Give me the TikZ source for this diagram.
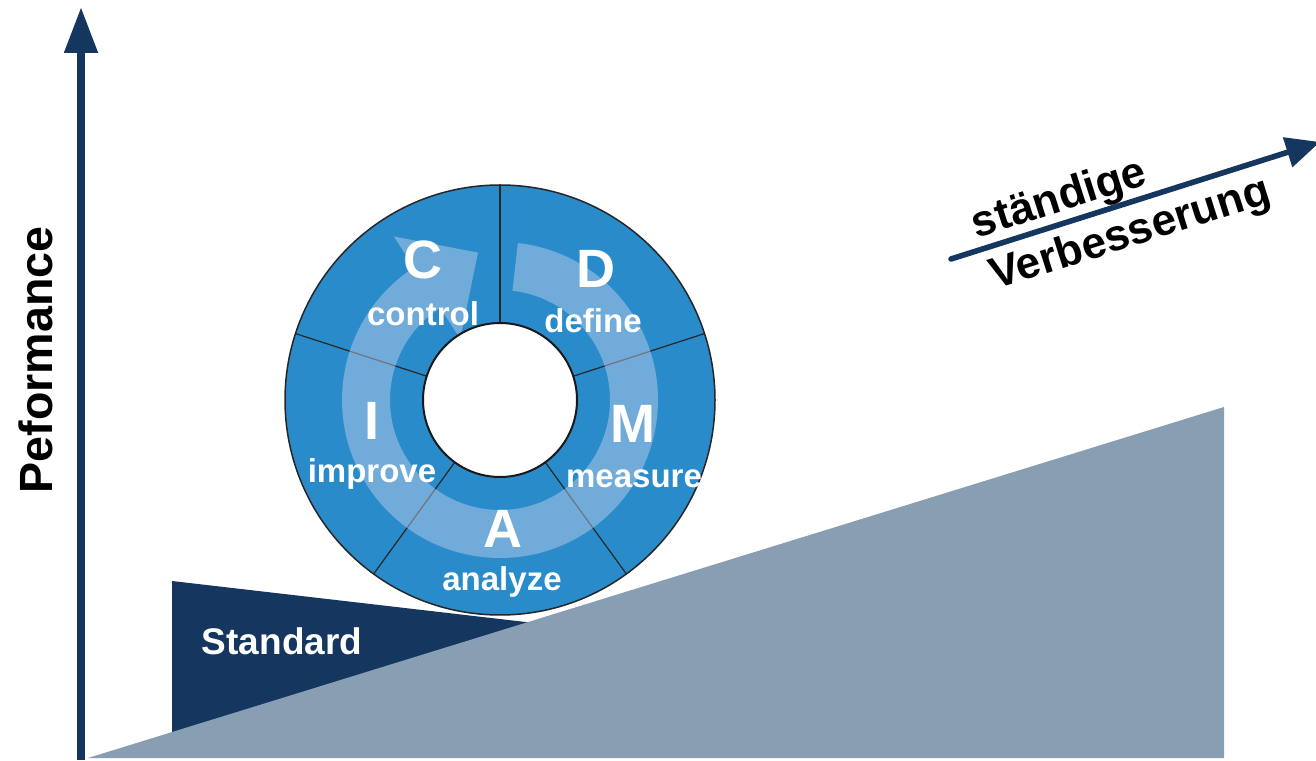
\documentclass[tikz,border=0pt]{standalone}
\usepackage{fontspec}
\setmainfont{Liberation Sans}
\usetikzlibrary{arrows.meta}
\definecolor{wheelblue}{HTML}{2A8BCB}
\definecolor{bandtint}{HTML}{C9D3EC}
\definecolor{navy}{HTML}{14365F}
\definecolor{slopegray}{HTML}{889EB2}

\begin{document}
\begin{tikzpicture}[x=0.5pt, y=0.5pt,
    phase/.style={text=white, anchor=base, inner sep=0pt, font=\bfseries\fontsize{27}{30}\selectfont},
    phasename/.style={text=white, anchor=base, inner sep=0pt, font=\bfseries\fontsize{16.5}{19}\selectfont},
    divider/.style={draw=black!85, line width=0.6pt},
    axistext/.style={anchor=base, inner sep=0pt, font=\bfseries\fontsize{22}{26}\selectfont}]
  \useasboundingbox (0,0) rectangle (1316,760);

  % base level and rising slope
  \fill[navy] (172,179) -- (560,134) -- (172,20) -- cycle;
  \fill[slopegray] (88,2) -- (1224,353) -- (1224,2) -- cycle;
  \node[text=white, anchor=base, inner sep=0pt, font=\bfseries\fontsize{18.5}{22}\selectfont] (std) at (282,105) {Standard};

  % performance axis
  \coordinate (origin) at (81,0);
  \coordinate (ytop) at (81,753);
  \draw[navy, line width=4pt, -{Triangle[length=23pt, width=16pt]}] (origin) -- (ytop);
  \node[axistext, rotate=90, font=\bfseries\fontsize{23.3}{27}\selectfont] (perf) at (52,400) {Peformance};

  % improvement arrow
  \coordinate (vstart) at (951,501);
  \coordinate (vtip) at (1320,618);
  \draw[navy, line width=2.8pt, line cap=round, -{Triangle[length=17pt, width=15pt]}] (vstart) -- (vtip);
  \node[axistext, rotate=17.6] (st) at (1063,549) {ständige};
  \node[axistext, rotate=17.6] (vb) at (1134,514) {Verbesserung};

  % DMAIC wheel
  \coordinate (c) at (500,360);
  \begin{scope}[shift={(c)}]
    \fill[wheelblue] (0,0) circle[radius=215];
    \foreach \a in {90,18,-54,-126,162}
      \draw[divider] (\a:77) -- (\a:215);
    \fill[bandtint, fill opacity=0.45] (83.5:158) arc[start angle=83.5, end angle=-237, radius=158]
      -- (-237:195) -- (-261.5:149) -- (-237:73) -- (-237:110)
      arc[start angle=-237, end angle=83.5, radius=110] -- cycle;
    \draw[black!85, line width=0.75pt] (0,0) circle[radius=215];
    \draw[black!90, fill=white, line width=1pt] (0,0) circle[radius=77];
  \end{scope}

  \node[phase] (d) at (596,472) {D};
  \node[phasename] (dn) at (593,427) {define};
  \node[phase] (m) at (633,317) {M};
  \node[phasename] (mn) at (634,272) {measure};
  \node[phase] (a) at (503,212) {A};
  \node[phasename] (an) at (502,169) {analyze};
  \node[phase] (i) at (372,320) {I};
  \node[phasename] (in) at (372,277) {improve};
  \node[phase] (cc) at (423,481) {C};
  \node[phasename] (cn) at (423,434) {control};
\end{tikzpicture}
\end{document}
